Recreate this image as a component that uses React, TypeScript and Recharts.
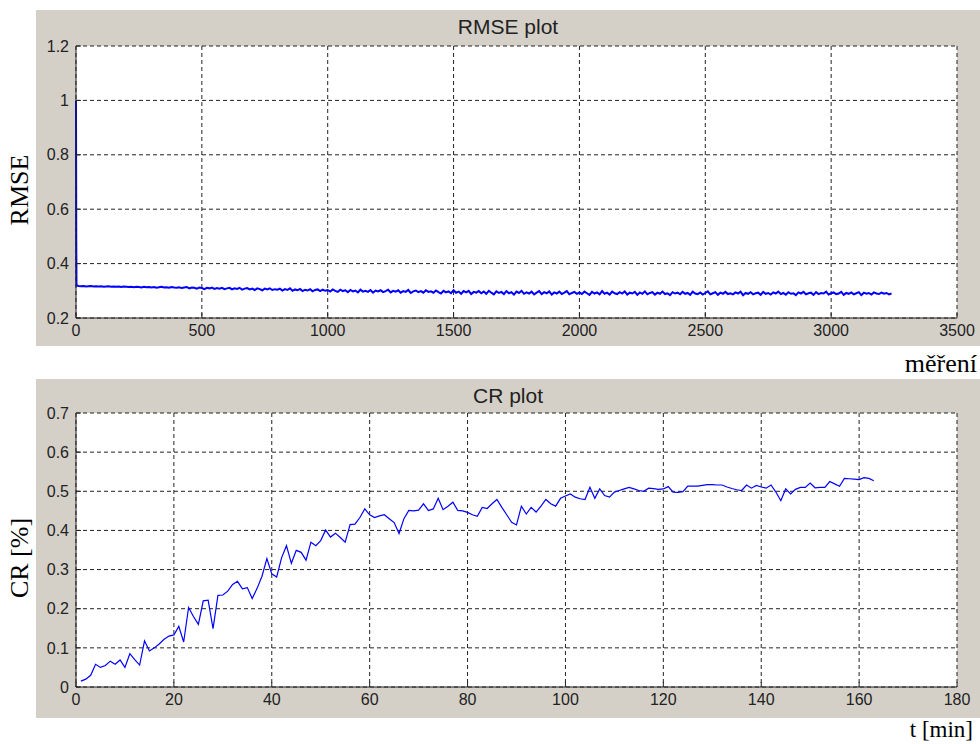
import { LineChart, Line, XAxis, YAxis, CartesianGrid } from 'recharts';

// RMSE per measurement: first samples (spike), then every 10th measurement
const rmseHead = [1.0, 0.49, 0.32];
const rmseStep = 10;
const rmseBody = [
  0.318, 0.317, 0.318, 0.316, 0.317, 0.318, 0.316, 0.317, 0.316, 0.317, 0.315, 0.316, 0.317, 0.315, 0.316, 0.315, 0.316, 0.314, 0.316, 0.315,
  0.314, 0.315, 0.313, 0.315, 0.314, 0.312, 0.315, 0.313, 0.314, 0.312, 0.314, 0.311, 0.313, 0.315, 0.312, 0.313, 0.311, 0.314, 0.312, 0.311,
  0.313, 0.310, 0.312, 0.314, 0.309, 0.312, 0.311, 0.308, 0.312, 0.310, 0.306, 0.311, 0.309, 0.312, 0.307, 0.310, 0.308, 0.311, 0.306, 0.309,
  0.311, 0.305, 0.309, 0.307, 0.311, 0.304, 0.308, 0.310, 0.305, 0.308, 0.303, 0.309, 0.306, 0.302, 0.308, 0.305, 0.309, 0.303, 0.306, 0.304,
  0.308, 0.301, 0.306, 0.303, 0.309, 0.300, 0.305, 0.302, 0.307, 0.299, 0.304, 0.301, 0.306, 0.298, 0.303, 0.305, 0.299, 0.304, 0.300, 0.303,
  0.297, 0.305, 0.300, 0.296, 0.304, 0.299, 0.302, 0.295, 0.303, 0.298, 0.301, 0.294, 0.304, 0.297, 0.300, 0.296, 0.303, 0.293, 0.301, 0.298,
  0.302, 0.295, 0.299, 0.304, 0.294, 0.300, 0.297, 0.302, 0.293, 0.299, 0.296, 0.303, 0.292, 0.298, 0.301, 0.295, 0.299, 0.293, 0.302, 0.296,
  0.298, 0.293, 0.301, 0.295, 0.290, 0.300, 0.294, 0.298, 0.291, 0.302, 0.293, 0.297, 0.289, 0.299, 0.294, 0.300, 0.288, 0.296, 0.293, 0.299,
  0.291, 0.297, 0.289, 0.300, 0.293, 0.287, 0.298, 0.292, 0.296, 0.288, 0.299, 0.291, 0.295, 0.286, 0.297, 0.292, 0.300, 0.289, 0.294, 0.290,
  0.297, 0.287, 0.293, 0.299, 0.288, 0.295, 0.291, 0.298, 0.286, 0.294, 0.290, 0.297, 0.288, 0.293, 0.299, 0.287, 0.292, 0.296, 0.289, 0.294,
  0.288, 0.297, 0.291, 0.285, 0.296, 0.290, 0.294, 0.287, 0.299, 0.289, 0.293, 0.286, 0.297, 0.291, 0.288, 0.295, 0.290, 0.298, 0.286, 0.293,
  0.290, 0.296, 0.285, 0.294, 0.289, 0.298, 0.287, 0.292, 0.295, 0.286, 0.293, 0.289, 0.297, 0.288, 0.291, 0.284, 0.295, 0.290, 0.293, 0.287,
  0.296, 0.289, 0.292, 0.285, 0.297, 0.290, 0.288, 0.294, 0.286, 0.292, 0.298, 0.287, 0.291, 0.295, 0.285, 0.293, 0.289, 0.296, 0.288, 0.291,
  0.287, 0.294, 0.290, 0.297, 0.284, 0.292, 0.289, 0.295, 0.287, 0.291, 0.293, 0.285, 0.296, 0.289, 0.292, 0.286, 0.294, 0.290, 0.297, 0.288,
  0.292, 0.286, 0.295, 0.289, 0.291, 0.284, 0.294, 0.290, 0.296, 0.287, 0.291, 0.293, 0.285, 0.295, 0.288, 0.292, 0.290, 0.297, 0.286, 0.291,
  0.294, 0.288, 0.290, 0.296, 0.285, 0.292, 0.289, 0.294, 0.287, 0.291, 0.295, 0.284, 0.293, 0.289, 0.292, 0.286, 0.294, 0.290, 0.288, 0.293,
  0.289, 0.292, 0.287, 0.290,
];
const rmseXTicks = [0, 500, 1000, 1500, 2000, 2500, 3000, 3500];
const rmseYTicks = [0.2, 0.4, 0.6, 0.8, 1, 1.2];

// compression ratio, one value per minute from t = 1
const crValues = [
  0.015, 0.02, 0.03, 0.058, 0.05, 0.055, 0.066, 0.058, 0.069, 0.05,
  0.085, 0.07, 0.056, 0.118, 0.092, 0.1, 0.11, 0.122, 0.13, 0.133,
  0.155, 0.115, 0.203, 0.18, 0.16, 0.22, 0.222, 0.149, 0.234, 0.235,
  0.245, 0.262, 0.27, 0.251, 0.254, 0.226, 0.252, 0.283, 0.328, 0.289,
  0.281, 0.33, 0.361, 0.316, 0.349, 0.344, 0.324, 0.37, 0.361, 0.374,
  0.401, 0.383, 0.393, 0.382, 0.37, 0.415, 0.416, 0.433, 0.455, 0.44,
  0.433, 0.437, 0.44, 0.43, 0.42, 0.392, 0.43, 0.451, 0.45, 0.452,
  0.468, 0.451, 0.455, 0.482, 0.453, 0.462, 0.472, 0.451, 0.45, 0.446,
  0.44, 0.436, 0.459, 0.456, 0.468, 0.479, 0.459, 0.44, 0.421, 0.414,
  0.462, 0.442, 0.459, 0.447, 0.462, 0.479, 0.468, 0.462, 0.482, 0.488,
  0.493, 0.485, 0.481, 0.479, 0.51, 0.482, 0.506, 0.489, 0.485, 0.498,
  0.502, 0.506, 0.51, 0.506, 0.502, 0.5, 0.508, 0.507, 0.505, 0.506,
  0.512, 0.498, 0.497, 0.499, 0.513, 0.513, 0.513, 0.515, 0.517, 0.517,
  0.516, 0.516, 0.511, 0.507, 0.504, 0.502, 0.516, 0.508, 0.515, 0.511,
  0.508, 0.516, 0.498, 0.476, 0.506, 0.493, 0.505, 0.51, 0.51, 0.521,
  0.509, 0.51, 0.51, 0.525, 0.519, 0.513, 0.533, 0.532, 0.531, 0.53,
  0.535, 0.533, 0.527,
];
const crXTicks = [0, 20, 40, 60, 80, 100, 120, 140, 160, 180];
const crYTicks = [0, 0.1, 0.2, 0.3, 0.4, 0.5, 0.6, 0.7];

const rmseData = [
  ...rmseHead.map((v, i) => ({ n: i, v })),
  ...rmseBody.map((v, i) => ({ n: (i + 1) * rmseStep, v })),
];
const crData = crValues.map((v, i) => ({ t: i + 1, v }));

const PANEL = '#d4d0c8';
const INK = '#222';
const SANS = '"Liberation Sans", Arial, sans-serif';
const SERIF = '"Liberation Serif", "Times New Roman", serif';
const tickStyle = { fontSize: 16, fill: INK, fontFamily: SANS };

function Panel({ top, height, data, xKey, xDomain, xTicks, yDomain, yTicks, margin, xh, lineWidth }: any) {
  return (
    <div style={{ position: 'absolute', left: 36, top, width: 944, height, background: PANEL }}>
      <LineChart width={944} height={height} data={data} margin={margin}>
        <CartesianGrid fill="#fff" stroke={INK} strokeDasharray="4 3" />
        <XAxis
          dataKey={xKey}
          type="number"
          domain={xDomain}
          ticks={xTicks}
          interval={0}
          height={xh}
          tick={tickStyle}
          tickSize={-5}
          tickMargin={12}
          axisLine={{ stroke: INK }}
          tickLine={{ stroke: INK }}
        />
        <YAxis
          type="number"
          domain={yDomain}
          ticks={yTicks}
          interval={0}
          width={40}
          tick={tickStyle}
          tickSize={-5}
          tickMargin={12}
          axisLine={{ stroke: INK }}
          tickLine={{ stroke: INK }}
        />
        <Line dataKey="v" stroke="#0000ff" strokeWidth={lineWidth} dot={false} isAnimationActive={false} />
      </LineChart>
    </div>
  );
}

export default function App() {
  return (
    <div style={{ position: 'absolute', left: 0, top: 0, width: 980, height: 744, background: '#fff' }}>
      <Panel
        top={10}
        height={336}
        data={rmseData}
        xKey="n"
        xDomain={[0, 3500]}
        xTicks={rmseXTicks}
        yDomain={[0.2, 1.2]}
        yTicks={rmseYTicks}
        margin={{ top: 36, right: 23, left: 0, bottom: 0 }}
        xh={28}
        lineWidth={2}
      />
      <Panel
        top={379}
        height={339}
        data={crData}
        xKey="t"
        xDomain={[0, 180]}
        xTicks={crXTicks}
        yDomain={[0, 0.7]}
        yTicks={crYTicks}
        margin={{ top: 34, right: 23, left: 0, bottom: 0 }}
        xh={31}
        lineWidth={1.2}
      />
      <svg width={980} height={744} style={{ position: 'absolute', left: 0, top: 0, pointerEvents: 'none' }}>
        <text x={508} y={34} textAnchor="middle" fontFamily={SANS} fontSize={21} fill={INK}>RMSE plot</text>
        <text x={508} y={403} textAnchor="middle" fontFamily={SANS} fontSize={21} fill={INK}>CR plot</text>
        <text transform="translate(28,190) rotate(-90)" textAnchor="middle" fontFamily={SERIF} fontSize={26} fill="#000">RMSE</text>
        <text transform="translate(28,558) rotate(-90)" textAnchor="middle" fontFamily={SERIF} fontSize={26} fill="#000">CR [%]</text>
        <text x={977} y={372} textAnchor="end" fontFamily={SERIF} fontSize={26} fill="#000">měření</text>
        <text x={973} y={737} textAnchor="end" fontFamily={SERIF} fontSize={23} fill="#000">t [min]</text>
      </svg>
    </div>
  );
}
